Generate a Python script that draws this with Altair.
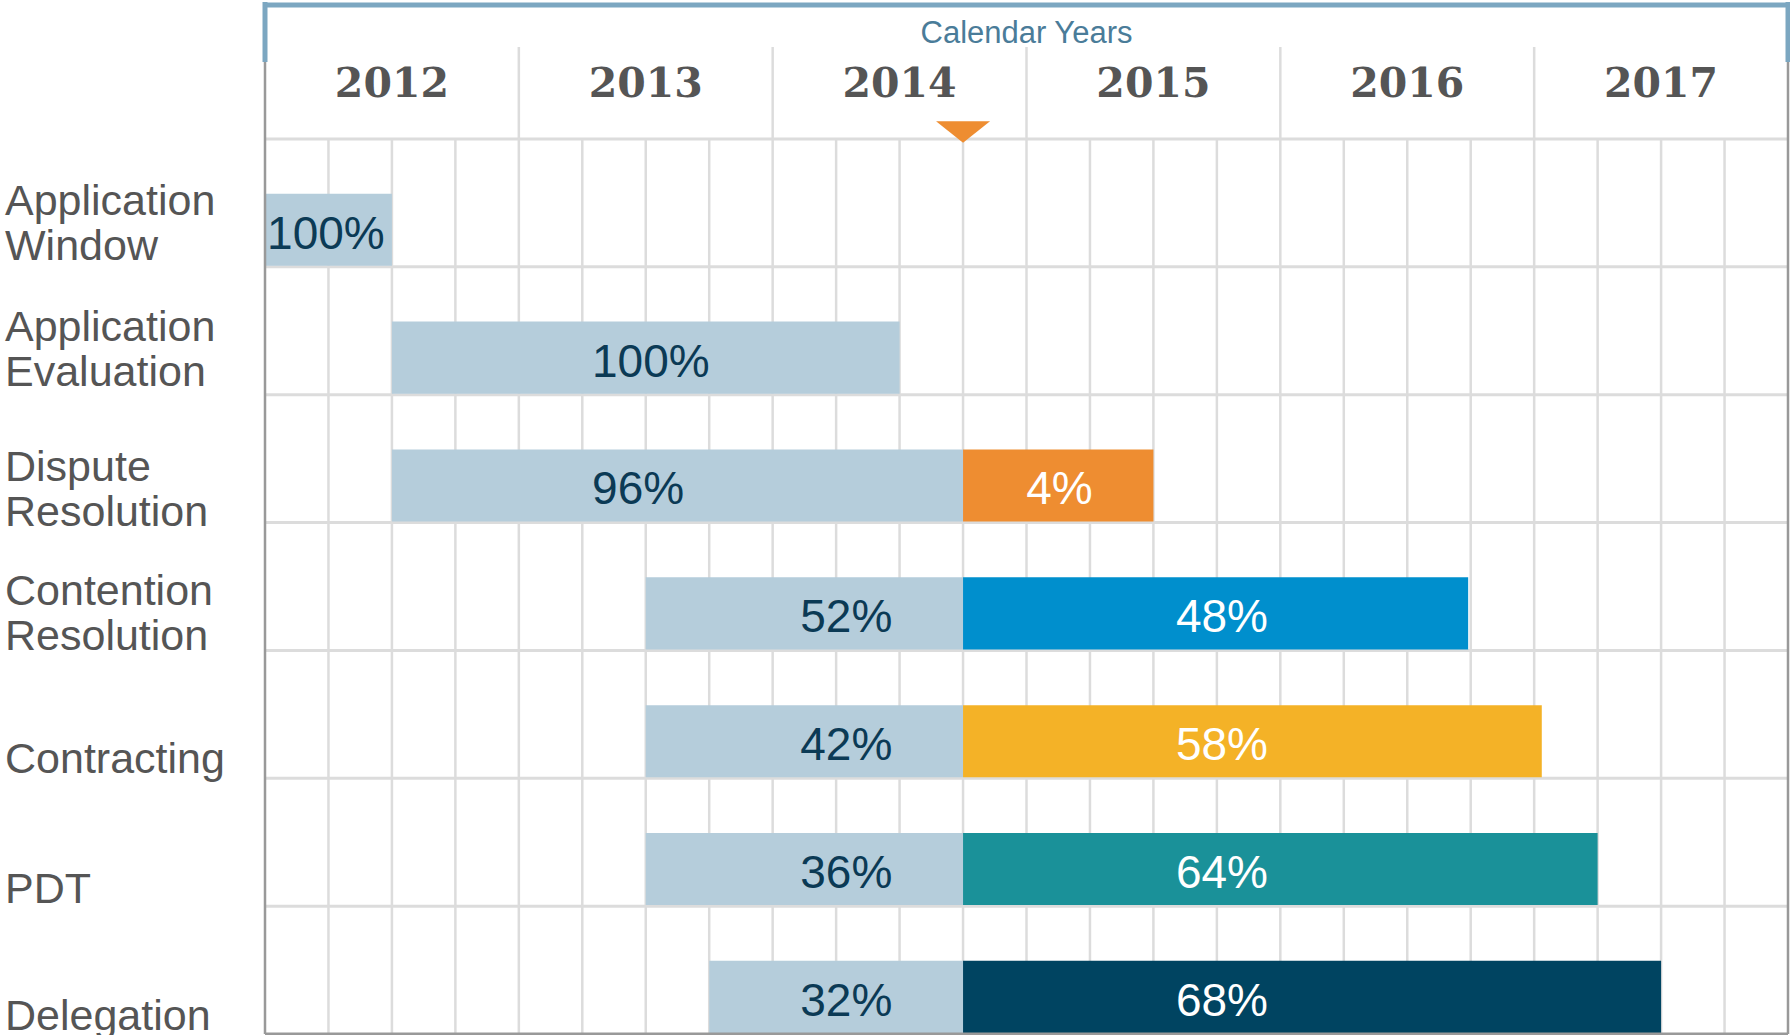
import altair as alt
import pandas as pd

# ---------------- data ----------------
stages = ["Application\nWindow", "Application\nEvaluation", "Dispute\nResolution",
          "Contention\nResolution", "Contracting", "PDT", "Delegation"]
# vertical anchor of each stage name's first line, as a fraction of its row
stage_anchor = [0.482, 0.473, 0.562, 0.536, 0.848, 0.866, 0.857]

# segment table: row index, start, end (in calendar years), share label, label x, colour, text colour
seg_row = [0, 1, 2, 2, 3, 3, 4, 4, 5, 5, 6, 6]
seg_start = [2012.0, 2012.5, 2012.5, 2014.75, 2013.5, 2014.75, 2013.5, 2014.75, 2013.5, 2014.75, 2013.75, 2014.75]
seg_end = [2012.5, 2014.5, 2014.75, 2015.5, 2014.75, 2016.74, 2014.75, 2017.03, 2014.75, 2017.25, 2014.75, 2017.5]
seg_label = ["100%", "100%", "96%", "4%", "52%", "48%", "42%", "58%", "36%", "64%", "32%", "68%"]
seg_label_x = [2012.24, 2013.52, 2013.47, 2015.13, 2014.29, 2015.77, 2014.29, 2015.77, 2014.29, 2015.77, 2014.29, 2015.77]
seg_color = ["#b5cddb", "#b5cddb", "#b5cddb", "#ee8d31", "#b5cddb", "#008fcd",
             "#b5cddb", "#f4b227", "#b5cddb", "#1a9199", "#b5cddb", "#004461"]
seg_text_color = ["#0b3a55", "#0b3a55", "#0b3a55", "#ffffff", "#0b3a55", "#ffffff",
                  "#0b3a55", "#ffffff", "#0b3a55", "#ffffff", "#0b3a55", "#ffffff"]

years = [2012, 2013, 2014, 2015, 2016, 2017]
year_bounds = [2013, 2014, 2015, 2016, 2017]
quarters = [2012 + q / 4 for q in range(1, 24)]
row_lines = [0, 1, 2, 3, 4, 5, 6]
today = [2014.75]

# ---------------- layout ----------------
W, H = 1523, 895
PAD = {"left": 265, "top": 139, "right": 2, "bottom": 1}

xs = alt.Scale(domain=[2012, 2018], nice=False, zero=False)
ys = alt.Scale(domain=[0, 7], nice=False, zero=False, reverse=True)

seg = pd.DataFrame({
    "row": seg_row, "start": seg_start, "end": seg_end, "label": seg_label,
    "lx": seg_label_x, "color": seg_color, "tcolor": seg_text_color,
})
seg["top"] = seg["row"] + 0.428
seg["bottom"] = seg["row"] + 0.992
seg["mid"] = seg["row"] + 0.71

stage_df = pd.DataFrame({"stage": stages, "row": list(range(len(stages))), "anchor": stage_anchor})
stage_df["y"] = stage_df["row"] + stage_df["anchor"]

year_df = pd.DataFrame({"year": years, "mid": [y + 0.5 for y in years]})
bound_df = pd.DataFrame({"x": year_bounds})
q_df = pd.DataFrame({"x": quarters})
row_df = pd.DataFrame({"y": row_lines})
edge_df = pd.DataFrame({"x": [2012.0, 2018.0]})
bottom_df = pd.DataFrame({"y": [7]})
today_df = pd.DataFrame({"x": today})
top_df = pd.DataFrame({"x": [2012.0], "x2": [2018.0]})
title_df = pd.DataFrame({"t": ["Calendar Years"]})

GRID = "#dcdcdc"
BORDER = "#999999"
BRACKET = "#7ca7c1"

qgrid = alt.Chart(q_df).mark_rule(color=GRID, strokeWidth=2.5).encode(
    x=alt.X("x:Q", scale=xs, axis=None), y=alt.value(0), y2=alt.value(H))

rgrid = alt.Chart(row_df).mark_rule(color=GRID, strokeWidth=3).encode(
    y=alt.Y("y:Q", scale=ys, axis=None), x=alt.value(0), x2=alt.value(W))

hsep = alt.Chart(bound_df).mark_rule(color=GRID, strokeWidth=2.5).encode(
    x=alt.X("x:Q", scale=xs), y=alt.value(-92), y2=alt.value(0))

edges = alt.Chart(edge_df).mark_rule(color=BORDER, strokeWidth=2.5).encode(
    x=alt.X("x:Q", scale=xs), y=alt.value(-77), y2=alt.value(H))

bottom = alt.Chart(bottom_df).mark_rule(color=BORDER, strokeWidth=3).encode(
    y=alt.Y("y:Q", scale=ys), x=alt.value(0), x2=alt.value(W))

bracket_v = alt.Chart(edge_df).mark_rule(color=BRACKET, strokeWidth=5).encode(
    x=alt.X("x:Q", scale=xs), y=alt.value(-137), y2=alt.value(-77))

bracket_h = alt.Chart(top_df).mark_rule(color=BRACKET, strokeWidth=5).encode(
    x=alt.X("x:Q", scale=xs), x2="x2:Q", y=alt.value(-134))

title = alt.Chart(title_df).mark_text(
    font="Liberation Sans", fontSize=31, color="#4a7c99", baseline="alphabetic", align="center"
).encode(text="t:N", x=alt.value(W / 2), y=alt.value(-96))

year_txt = alt.Chart(year_df).mark_text(
    font="DejaVu Serif", fontWeight="bold", fontSize=41, color="#555555",
    baseline="alphabetic", align="center"
).encode(x=alt.X("mid:Q", scale=xs), y=alt.value(-42), text="year:N")

bars = alt.Chart(seg).mark_bar(stroke=None).encode(
    x=alt.X("start:Q", scale=xs), x2="end:Q",
    y=alt.Y("top:Q", scale=ys), y2="bottom:Q",
    color=alt.Color("color:N", scale=None),
)

bar_txt = alt.Chart(seg).mark_text(
    font="Liberation Sans", fontSize=46, baseline="middle", align="center", dy=5
).encode(
    x=alt.X("lx:Q", scale=xs), y=alt.Y("mid:Q", scale=ys),
    text="label:N", color=alt.Color("tcolor:N", scale=None),
)

stage_txt = alt.Chart(stage_df).mark_text(
    font="Liberation Sans", fontSize=43, color="#555555", align="left", baseline="middle",
    lineBreak="\n", lineHeight=45, dy=1
).encode(x=alt.value(-260), y=alt.Y("y:Q", scale=ys), text="stage:N")

marker = alt.Chart(today_df).mark_point(
    shape="M-1,-0.4L1,-0.4L0,0.4Z", filled=True, color="#ee8d31", opacity=1, size=2916
).encode(x=alt.X("x:Q", scale=xs), y=alt.value(-7))

chart = alt.layer(
    qgrid, rgrid, hsep, bars, bottom, edges, bracket_v, bracket_h, title, year_txt,
    bar_txt, stage_txt, marker
).properties(
    width=W, height=H,
    autosize=alt.AutoSizeParams(type="none"),
    padding=PAD,
    background="white",
).configure_view(stroke=None)

chart.save("out.html", embed_options={"renderer": "svg", "actions": False})
